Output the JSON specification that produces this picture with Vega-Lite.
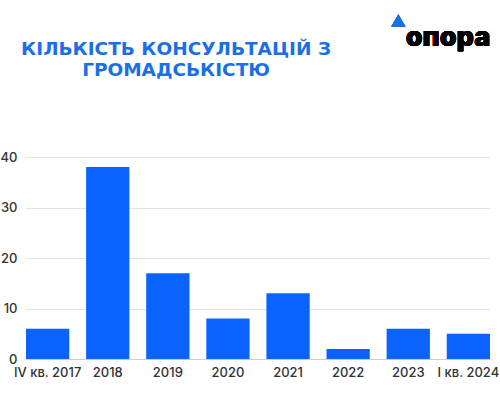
{
  "$schema": "https://vega.github.io/schema/vega-lite/v6.json",
  "autosize": "none",
  "width": 464,
  "height": 202,
  "padding": {"left": 26, "top": 157, "right": 10, "bottom": 41},
  "background": "white",
  "title": {
    "text": ["КІЛЬКІСТЬ КОНСУЛЬТАЦІЙ З", "ГРОМАДСЬКІСТЮ"],
    "anchor": "start",
    "align": "center",
    "dx": 176,
    "offset": 0,
    "dy": 65,
    "font": "DejaVu Sans",
    "fontSize": 18.5,
    "fontWeight": "bold",
    "color": "#1a6fe8",
    "lineHeight": 21
  },
  "config": {
    "view": {"stroke": null},
    "axis": {"labelFont": "Inter", "labelFontSize": 13, "labelFontWeight": 500, "labelColor": "#333333"}
  },
  "data": {
    "values": [
      {"period": "IV кв. 2017", "count": 6},
      {"period": "2018", "count": 38},
      {"period": "2019", "count": 17},
      {"period": "2020", "count": 8},
      {"period": "2021", "count": 13},
      {"period": "2022", "count": 2},
      {"period": "2023", "count": 6},
      {"period": "I кв. 2024", "count": 5}
    ]
  },
  "layer": [
    {
      "mark": {"type": "bar", "color": "#0a62ff"},
      "encoding": {
        "x": {
          "field": "period",
          "type": "nominal",
          "sort": null,
          "scale": {"paddingInner": 0.28, "paddingOuter": 0},
          "axis": {"title": null, "labelAngle": 0, "ticks": false, "domainColor": "#cccccc", "labelPadding": 7}
        },
        "y": {
          "field": "count",
          "type": "quantitative",
          "scale": {"domain": [0, 40]},
          "axis": {"title": null, "values": [0, 10, 20, 30, 40], "ticks": false, "domain": false, "gridColor": "#e3e3e3", "labelPadding": 9}
        }
      }
    },
    {
      "mark": {"type": "point", "shape": "triangle-up", "filled": true, "color": "#1a6fe8", "size": 200, "opacity": 1, "clip": false, "xOffset": -70},
      "encoding": {
        "x": {"datum": "I кв. 2024", "type": "nominal"},
        "y": {"datum": 67, "type": "quantitative"}
      }
    },
    {
      "mark": {"type": "text", "text": "опора", "font": "Inter", "fontSize": 27, "fontWeight": 900, "color": "#000000", "clip": false, "align": "right", "baseline": "middle", "dx": 22},
      "encoding": {
        "x": {"datum": "I кв. 2024", "type": "nominal"},
        "y": {"datum": 63.6, "type": "quantitative"}
      }
    }
  ]
}
